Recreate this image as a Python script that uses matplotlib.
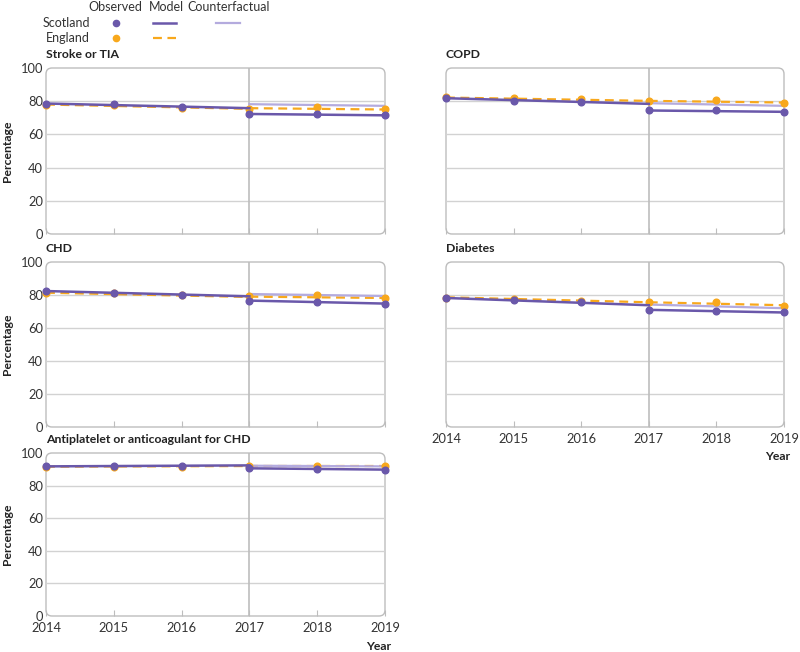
import matplotlib
matplotlib.use("Agg")
import matplotlib.pyplot as plt
from matplotlib.lines import Line2D
from matplotlib.patches import FancyBboxPatch

plt.rcParams["font.family"] = ["Lato", "DejaVu Sans"]

# ── Data (percentages) ────────────────────────────────────────────────────────
years = [2014, 2015, 2016, 2017, 2018, 2019]
pre_years = [2014, 2017]
post_years = [2017, 2019]
panel_titles = ["Stroke or TIA", "COPD", "CHD", "Diabetes",
                "Antiplatelet or anticoagulant for CHD"]

# Stroke or TIA
stroke_sco_obs = [78.4, 78.2, 76.6, 72.2, 72.2, 71.6]
stroke_eng_obs = [78.0, 77.8, 75.8, 75.6, 76.4, 75.2]
stroke_sco_pre = [78.6, 75.8]
stroke_sco_post = [72.3, 71.5]
stroke_eng_pre = [78.0, 75.4]
stroke_eng_post = [75.8, 75.0]
stroke_cf = [78.2, 77.2]

# COPD
copd_sco_obs = [81.8, 80.4, 79.6, 74.6, 74.8, 73.4]
copd_eng_obs = [82.4, 82.0, 81.2, 80.4, 80.6, 79.0]
copd_sco_pre = [81.8, 78.4]
copd_sco_post = [74.4, 73.6]
copd_eng_pre = [82.2, 80.2]
copd_eng_post = [80.2, 79.2]
copd_cf = [78.8, 77.2]

# CHD
chd_sco_obs = [82.4, 81.4, 79.8, 76.4, 76.0, 74.6]
chd_eng_obs = [81.4, 81.2, 79.8, 79.4, 80.0, 78.4]
chd_sco_pre = [82.4, 79.2]
chd_sco_post = [76.6, 74.8]
chd_eng_pre = [81.4, 78.8]
chd_eng_post = [79.0, 78.2]
chd_cf = [80.6, 79.4]

# Diabetes
diab_sco_obs = [78.2, 77.2, 75.8, 70.8, 70.4, 69.4]
diab_eng_obs = [78.4, 77.6, 76.2, 75.6, 76.0, 73.4]
diab_sco_pre = [78.2, 73.8]
diab_sco_post = [71.0, 69.4]
diab_eng_pre = [78.6, 75.6]
diab_eng_post = [75.6, 73.8]
diab_cf = [74.2, 72.0]

# Antiplatelet or anticoagulant for CHD
anti_sco_obs = [91.8, 92.2, 92.0, 90.8, 90.4, 89.8]
anti_eng_obs = [91.6, 91.6, 91.6, 92.2, 92.2, 92.0]
anti_sco_pre = [91.8, 92.4]
anti_sco_post = [90.6, 89.8]
anti_eng_pre = [91.6, 92.0]
anti_eng_post = [92.0, 92.0]
anti_cf = [92.2, 91.8]

panels = [
    (stroke_sco_obs, stroke_eng_obs, stroke_sco_pre, stroke_sco_post,
     stroke_eng_pre, stroke_eng_post, stroke_cf),
    (copd_sco_obs, copd_eng_obs, copd_sco_pre, copd_sco_post,
     copd_eng_pre, copd_eng_post, copd_cf),
    (chd_sco_obs, chd_eng_obs, chd_sco_pre, chd_sco_post,
     chd_eng_pre, chd_eng_post, chd_cf),
    (diab_sco_obs, diab_eng_obs, diab_sco_pre, diab_sco_post,
     diab_eng_pre, diab_eng_post, diab_cf),
    (anti_sco_obs, anti_eng_obs, anti_sco_pre, anti_sco_post,
     anti_eng_pre, anti_eng_post, anti_cf),
]

# ── Style ─────────────────────────────────────────────────────────────────────
PURPLE = "#6a58aa"
LIGHT = "#b4abde"
ORANGE = "#f8a81c"
GRID = "#d2d2d2"
FRAME = "#bdbdbd"
TEXT = "#333333"

W, H = 800, 652
fig = plt.figure(figsize=(W / 100, H / 100), dpi=100)

# axes boxes in pixels: (left, top, right, bottom)
boxes = [
    (46, 68, 385, 234),
    (446, 68, 784, 234),
    (46, 262, 385, 427),
    (446, 262, 784, 427),
    (46, 453, 385, 616),
]
show_ylab = [True, False, True, False, True]
show_xlab = [False, False, False, True, True]


def px_axes(l, t, r, b):
    return fig.add_axes([l / W, 1 - b / H, (r - l) / W, (b - t) / H])


for i, (box, data) in enumerate(zip(boxes, panels)):
    sco_obs, eng_obs, sco_pre, sco_post, eng_pre, eng_post, cf = data
    l, t, r, b = box
    ax = px_axes(*box)
    ax.set_xlim(2014, 2019)
    ax.set_ylim(0, 100)
    ax.patch.set_visible(False)
    for sp in ax.spines.values():
        sp.set_visible(False)

    # rounded frame
    wpx, hpx = r - l, b - t
    rad = 6
    ax.add_patch(FancyBboxPatch(
        (0, 0), 1, 1, transform=ax.transAxes,
        boxstyle=f"round,pad=0,rounding_size={rad / wpx}",
        mutation_aspect=wpx / hpx, facecolor="none",
        edgecolor=FRAME, linewidth=1, zorder=1, clip_on=False))

    for yv in [20, 40, 60, 80]:
        ax.axhline(yv, color=GRID, linewidth=1, zorder=1)
    ax.axvline(2017, color=FRAME, linewidth=1.2, zorder=1)

    ax.set_yticks([0, 20, 40, 60, 80, 100])
    ax.set_xticks(years)
    ax.tick_params(axis="y", length=0, labelsize=9.3, labelcolor=TEXT,
                   labelleft=show_ylab[i], pad=2)
    ax.tick_params(axis="x", direction="in", length=4, color=FRAME,
                   labelsize=9.3, labelcolor=TEXT, labelbottom=show_xlab[i],
                   pad=4)

    # England
    ax.plot(pre_years, eng_pre, "--", color=ORANGE, linewidth=1.6,
            dashes=(4, 2.5), zorder=3, clip_on=False)
    ax.plot(post_years, eng_post, "--", color=ORANGE, linewidth=1.6,
            dashes=(4, 2.5), zorder=3, clip_on=False)
    ax.plot(years, eng_obs, "o", color=ORANGE, markersize=4.8,
            linestyle="none", zorder=4, clip_on=False)

    # Scotland
    ax.plot(post_years, cf, "-", color=LIGHT, linewidth=1.6, zorder=3)
    ax.plot(pre_years, sco_pre, "-", color=PURPLE, linewidth=1.8, zorder=5,
            clip_on=False)
    ax.plot(post_years, sco_post, "-", color=PURPLE, linewidth=1.8, zorder=5,
            clip_on=False)
    ax.plot(years, sco_obs, "o", color=PURPLE, markersize=4.8,
            linestyle="none", zorder=6, clip_on=False)

    fig.text(l / W, 1 - (t - 8) / H, panel_titles[i], fontsize=8.8,
             fontweight="bold", color="#222222", ha="left", va="bottom")

    if show_ylab[i]:
        fig.text(8 / W, 1 - (t + hpx / 2) / H, "Percentage", rotation=90,
                 fontsize=8.8, fontweight="bold", color="#222222",
                 ha="center", va="center")
    if show_xlab[i]:
        fig.text((r + 6) / W, 1 - (b + 30) / H, "Year", fontsize=8.8,
                 fontweight="bold", color="#222222", ha="right", va="center")

# ── Legend (table-like, top-left) ─────────────────────────────────────────────
def fx(x):
    return x / W


def fy(y):
    return 1 - y / H


for txt, xc in [("Observed", 115), ("Model", 166), ("Counterfactual", 229)]:
    fig.text(fx(xc), fy(7), txt, fontsize=9, color=TEXT,
             ha="center", va="center")
fig.text(fx(90), fy(23), "Scotland", fontsize=9, color=TEXT,
         ha="right", va="center")
fig.text(fx(90), fy(38), "England", fontsize=9, color=TEXT,
         ha="right", va="center")

fig.add_artist(Line2D([fx(115.5)], [fy(23)], marker="o", color=PURPLE,
                      markersize=4.5, linestyle="none"))
fig.add_artist(Line2D([fx(115.5)], [fy(38)], marker="o", color=ORANGE,
                      markersize=4.5, linestyle="none"))
fig.add_artist(Line2D([fx(153), fx(176)], [fy(23), fy(23)], color=PURPLE,
                      linewidth=1.8))
fig.add_artist(Line2D([fx(153), fx(176)], [fy(38), fy(38)], color=ORANGE,
                      linewidth=1.6, linestyle="--", dashes=(4, 2.5)))
fig.add_artist(Line2D([fx(216), fx(240)], [fy(23), fy(23)], color=LIGHT,
                      linewidth=1.6))

fig.savefig("out.png", dpi=100)
